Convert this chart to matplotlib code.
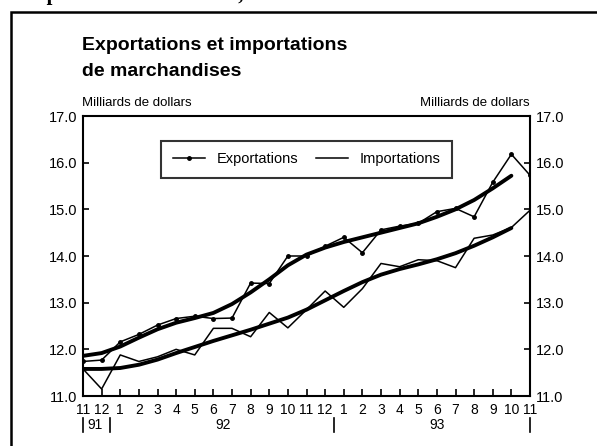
import matplotlib.pyplot as plt
from matplotlib.patches import Rectangle

plt.rcParams['font.family'] = ['Liberation Sans', 'DejaVu Sans']

# months 11/91 .. 11/93
months = [11, 12, 1, 2, 3, 4, 5, 6, 7, 8, 9, 10, 11, 12,
          1, 2, 3, 4, 5, 6, 7, 8, 9, 10, 11]

exports = [11.74, 11.77, 12.16, 12.32, 12.52, 12.66, 12.71, 12.66, 12.67,
           13.42, 13.41, 14.00, 14.00, 14.21, 14.40, 14.07, 14.56, 14.64,
           14.70, 14.95, 15.02, 14.84, 15.58, 16.18, 15.73]
imports = [11.58, 11.15, 11.88, 11.74, 11.84, 12.00, 11.88, 12.45, 12.45,
           12.27, 12.79, 12.46, 12.85, 13.25, 12.90, 13.30, 13.84, 13.77,
           13.92, 13.90, 13.75, 14.38, 14.45, 14.61, 14.98]

# smoothed trends (end at 10/93)
exports_trend = [11.86, 11.92, 12.06, 12.25, 12.43, 12.57, 12.67, 12.78,
                 12.97, 13.22, 13.50, 13.80, 14.03, 14.18, 14.30, 14.40,
                 14.50, 14.60, 14.70, 14.84, 15.00, 15.20, 15.45, 15.72]
imports_trend = [11.58, 11.58, 11.60, 11.67, 11.78, 11.92, 12.05, 12.18,
                 12.30, 12.42, 12.55, 12.68, 12.85, 13.05, 13.25, 13.44,
                 13.60, 13.72, 13.82, 13.93, 14.06, 14.22, 14.40, 14.60]

years = ["91", "92", "93"]

x = list(range(len(months)))
xt = list(range(len(exports_trend)))

fig = plt.figure(figsize=(5.97, 4.46), dpi=100)

# outer frame of the page box
fig.patches.append(Rectangle((11 / 597, -0.05), 1.0, 1 - 12 / 446 + 0.05,
                             transform=fig.transFigure, fill=False,
                             edgecolor='black', linewidth=1.8))

# cut-off line of text at the very top
fig.text(0.03, 1.012, "du pétrole et du charbon, le 500 millions de dollars.",
         fontsize=15, fontweight='bold', family='Liberation Serif',
         va='center', ha='left')

fig.text(82 / 597, 1 - 45 / 446, "Exportations et importations",
         fontsize=14, fontweight='bold', va='center')
fig.text(82 / 597, 1 - 72 / 446, "de marchandises",
         fontsize=14, fontweight='bold', va='center')

ax = fig.add_axes([83 / 597, 1 - 396 / 446, (530 - 83) / 597, (396 - 116) / 446])

ax.plot(x, exports, color='black', lw=1.1, marker='o', markersize=2.5,
        label='Exportations')
ax.plot(x, imports, color='black', lw=1.1, label='Importations')
ax.plot(xt, exports_trend, color='black', lw=2.8, solid_capstyle='round')
ax.plot(xt, imports_trend, color='black', lw=2.8, solid_capstyle='round')

ax.set_xlim(0, 24)
ax.set_ylim(11, 17)
ax.set_yticks([11, 12, 13, 14, 15, 16, 17])
ax.set_yticklabels(['%.1f' % v for v in [11, 12, 13, 14, 15, 16, 17]])
ax.set_xticks(x)
ax.set_xticklabels([str(m) for m in months])
ax.tick_params(axis='x', direction='in', length=5, width=1.2, pad=5,
               labelsize=10)
ax.tick_params(axis='y', direction='in', length=4, width=1.2, labelsize=10.5,
               left=True, right=True, labelleft=True, labelright=True, pad=4)
for s in ax.spines.values():
    s.set_linewidth(1.5)

# year markers under the month labels
trans = ax.get_xaxis_transform()
for xp in [0, 1.45, 13.5, 24]:
    ax.plot([xp, xp], [-0.08, -0.13], color='black', lw=1.2,
            transform=trans, clip_on=False)
ax.text(0.65, -0.105, years[0], transform=trans, ha='center', va='center',
        fontsize=10)
ax.text(7.5, -0.105, years[1], transform=trans, ha='center', va='center',
        fontsize=10)
ax.text(19, -0.105, years[2], transform=trans, ha='center', va='center',
        fontsize=10)

fig.text(82 / 597, 1 - 103 / 446, "Milliards de dollars", fontsize=9.5,
         va='center', ha='left')
fig.text(530 / 597, 1 - 103 / 446, "Milliards de dollars", fontsize=9.5,
         va='center', ha='right')

leg = ax.legend(loc='center', bbox_to_anchor=(0.5, 0.845), ncol=2,
                frameon=True, fancybox=False, fontsize=10.5,
                handlelength=2.2, columnspacing=1.2, borderpad=0.8)
leg.get_frame().set_edgecolor('black')
leg.get_frame().set_linewidth(1.5)

fig.savefig('out.png', dpi=100)
